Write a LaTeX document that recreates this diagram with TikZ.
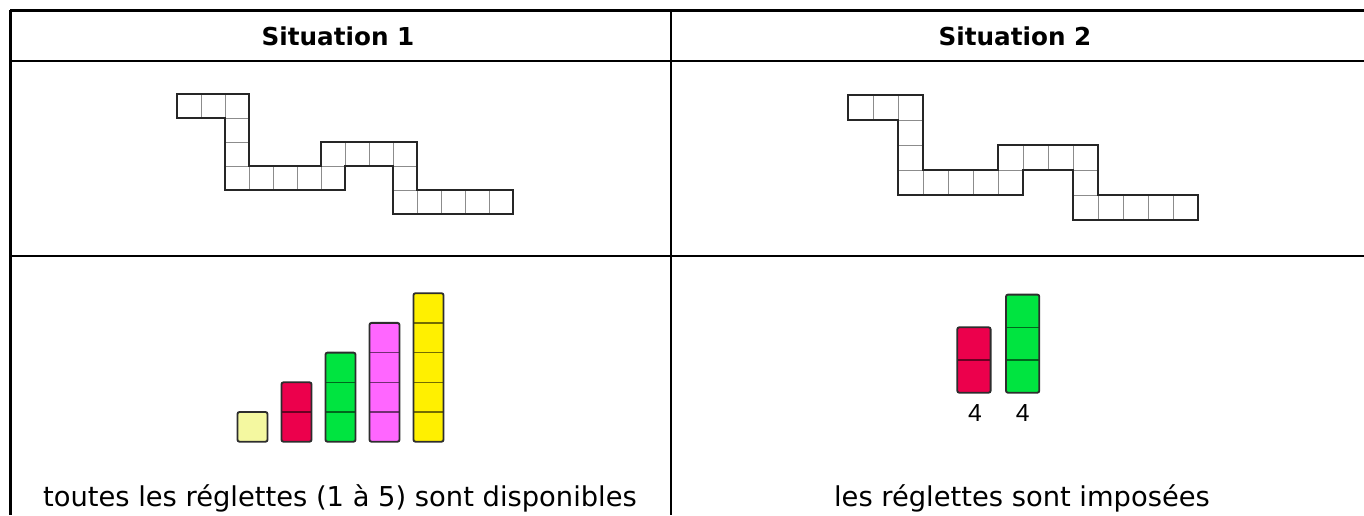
\documentclass[tikz,border=0pt]{standalone}
\usepackage{fontspec}
\setmainfont{DejaVu Sans}
\newfontfamily\numfont{Liberation Sans}
\definecolor{rcream}{RGB}{244,248,160}
\definecolor{rred}{RGB}{236,0,76}
\definecolor{rgreen}{RGB}{0,228,64}
\definecolor{rpink}{RGB}{255,102,255}
\definecolor{ryellow}{RGB}{255,240,0}
\definecolor{edgecol}{RGB}{45,45,45}
\newcommand\cellset{(0,0),(1,0),(2,0),(2,1),(2,2),(2,3),(3,3),(4,3),(5,3),(6,3),(6,2),(7,2),(8,2),(9,2),(9,3),(9,4),(10,4),(11,4),(12,4),(13,4)}
\tikzset{
  tabline/.style={line width=1.9pt, black},
  cellline/.style={line width=0.7pt, black!45},
  outline/.style={line width=1.3pt, black!85, line join=miter},
  rodedge/.style={line width=1.4pt, draw=edgecol, rounded corners=1.5pt},
  headtxt/.style={font=\fontsize{18.5}{22}\selectfont\bfseries, inner sep=0pt},
  bottxt/.style={font=\fontsize{20.5}{25}\selectfont, inner sep=0pt, anchor=base},
  numtxt/.style={font=\numfont\fontsize{18.5}{22}\selectfont, inner sep=0pt}
}
\begin{document}
\begin{tikzpicture}[x=0.75pt,y=-0.75pt]
\useasboundingbox (0,0) rectangle (1364,515);
% table
\draw[tabline] (10,10.5) -- (1364,10.5);
\draw[tabline] (10,61) -- (1364,61);
\draw[tabline] (10,256) -- (1364,256);
\draw[tabline] (10.5,10) -- (10.5,515);
\draw[tabline] (671,10) -- (671,515);
% headers
\node[headtxt] (h1) at (338,36) {Situation 1};
\node[headtxt] (h2) at (1015,36) {Situation 2};
% pattern 1
\begin{scope}[shift={(177.3,94)}, scale=24]
  \foreach \p in \cellset { \draw[cellline] \p rectangle ++(1,1); }
  \draw[outline] (0,0) -- (3,0) -- (3,3) -- (6,3) -- (6,2) -- (10,2) -- (10,4) -- (14,4) -- (14,5) -- (9,5) -- (9,3) -- (7,3) -- (7,4) -- (2,4) -- (2,1) -- (0,1) -- cycle;
\end{scope}
% pattern 2
\begin{scope}[shift={(848.3,95)}, scale=25]
  \foreach \p in \cellset { \draw[cellline] \p rectangle ++(1,1); }
  \draw[outline] (0,0) -- (3,0) -- (3,3) -- (6,3) -- (6,2) -- (10,2) -- (10,4) -- (14,4) -- (14,5) -- (9,5) -- (9,3) -- (7,3) -- (7,4) -- (2,4) -- (2,1) -- (0,1) -- cycle;
\end{scope}
% rods situation 1
\foreach \i/\n/\c in {0/1/rcream,1/2/rred,2/3/rgreen,3/4/rpink,4/5/ryellow} {
  \pgfmathsetmacro\xl{237.5+44*\i}
  \fill[\c, rounded corners=1.5pt] (\xl,441.7) rectangle ++(30,-29.7*\n);
  \ifnum\n>1
    \foreach \k in {2,...,\n} { \draw[line width=1pt, \c!45!black] (\xl,441.7-29.7*\k+29.7) -- ++(30,0); }
  \fi
  \draw[rodedge] (\xl,441.7) rectangle ++(30,-29.7*\n);
}
% rods situation 2
\foreach \xl/\n/\c in {957.3/2/rred,1006/3/rgreen} {
  \fill[\c, rounded corners=1.5pt] (\xl,392.7) rectangle ++(33.3,-32.7*\n);
  \foreach \k in {2,...,\n} { \draw[line width=1pt, \c!45!black] (\xl,392.7-32.7*\k+32.7) -- ++(33.3,0); }
  \draw[rodedge] (\xl,392.7) rectangle ++(33.3,-32.7*\n);
}
\node[numtxt] (n1) at (975,413) {4};
\node[numtxt] (n2) at (1022.7,413) {4};
% bottom texts
\node[bottxt] (b1) at (340,506) {toutes les réglettes (1 à 5) sont disponibles};
\node[bottxt] (b2) at (1022,506) {les réglettes sont imposées};
\end{tikzpicture}
\end{document}
